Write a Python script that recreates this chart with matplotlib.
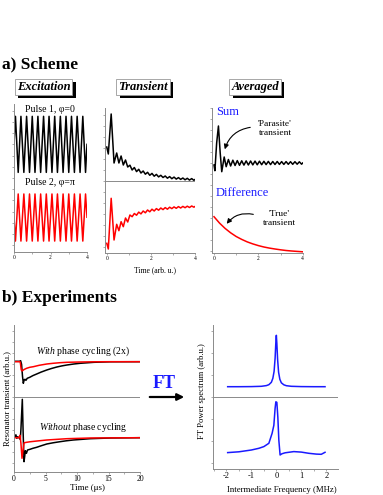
import matplotlib
matplotlib.use('Agg')
import matplotlib.pyplot as plt
from matplotlib import patheffects
from matplotlib.ticker import MultipleLocator, NullFormatter

plt.rcParams['font.family'] = ['Liberation Serif', 'DejaVu Serif']
plt.rcParams['mathtext.fontset'] = 'custom'
plt.rcParams['mathtext.rm'] = 'Liberation Serif'
plt.rcParams['mathtext.it'] = 'Liberation Serif:italic'
plt.rcParams['mathtext.bf'] = 'Liberation Serif:bold'
plt.rcParams['axes.unicode_minus'] = False

# ---- a) scheme: excitation pulses (peak / trough vertices)
pulse_t = [0, 0.08, 0.23, 0.38, 0.54, 0.69, 0.85, 1.00, 1.15, 1.31, 1.46, 1.62,
           1.77, 1.92, 2.08, 2.23, 2.38, 2.54, 2.69, 2.85, 3.00, 3.15, 3.31,
           3.46, 3.62, 3.77, 3.92, 4.0]
pulse1 = [1.2, 2.2, 0.2, 2.2, 0.2, 2.2, 0.2, 2.2, 0.2, 2.2, 0.2, 2.2, 0.2, 2.2,
          0.2, 2.2, 0.2, 2.2, 0.2, 2.2, 0.2, 2.2, 0.2, 2.2, 0.2, 2.2, 0.2, 1.2]
pulse2 = [-1.4, -2.25, -0.57, -2.25, -0.57, -2.25, -0.57, -2.25, -0.57, -2.25,
          -0.57, -2.25, -0.57, -2.25, -0.57, -2.25, -0.57, -2.25, -0.57, -2.25,
          -0.57, -2.25, -0.57, -2.25, -0.57, -2.25, -0.57, -1.4]

# transients after each pulse
tr_t = [0, 0.07, 0.2, 0.33, 0.45, 0.55, 0.65, 0.75, 0.85, 0.95,
        1.05, 1.15, 1.25, 1.35, 1.45, 1.55, 1.65, 1.75, 1.85, 1.95,
        2.05, 2.15, 2.25, 2.35, 2.45, 2.55, 2.65, 2.75, 2.85, 2.95,
        3.05, 3.15, 3.25, 3.35, 3.45, 3.55, 3.65, 3.75, 3.85, 3.95, 4.0]
tr_black = [3.4, 2.7, 6.7, 1.8, 2.8, 1.8, 2.5, 1.6, 2.1, 1.4,
            1.58, 1.10, 1.35, 0.94, 1.17, 0.80, 1.00, 0.68, 0.87, 0.57,
            0.76, 0.48, 0.66, 0.41, 0.57, 0.35, 0.50, 0.28, 0.44, 0.23,
            0.39, 0.19, 0.34, 0.16, 0.30, 0.12, 0.27, 0.09, 0.24, 0.07, 0.15]
tr_red = [-6.23, -6.8, -1.73, -5.9, -4.33, -4.97, -4.07, -4.57, -3.7, -4.1,
          -3.40, -3.57, -3.25, -3.42, -3.11, -3.29, -3.00, -3.18, -2.90, -3.08,
          -2.82, -3.00, -2.76, -2.92, -2.70, -2.86, -2.66, -2.82, -2.62, -2.76,
          -2.59, -2.73, -2.56, -2.70, -2.54, -2.67, -2.52, -2.65, -2.50, -2.62, -2.55]

# averaged: sum and difference
sum_t = [0, 0.04, 0.12, 0.2, 0.28, 0.35, 0.46, 0.55, 0.65, 0.75, 0.85, 0.95,
         1.05, 1.15, 1.25, 1.35, 1.45, 1.55, 1.65, 1.75, 1.85, 1.95,
         2.05, 2.15, 2.25, 2.35, 2.45, 2.55, 2.65, 2.75, 2.85, 2.95,
         3.05, 3.15, 3.25, 3.35, 3.45, 3.55, 3.65, 3.75, 3.85, 3.95, 4.0]
sum_y = [-0.2, -0.77, 2.0, 3.7, 1.0, -0.87, 0.6, -0.37, 0.35, -0.3, 0.28, -0.25,
         0.24, -0.23, 0.22, -0.21, 0.21, -0.2, 0.2, -0.19, 0.19, -0.18,
         0.18, -0.17, 0.17, -0.16, 0.16, -0.16, 0.15, -0.15, 0.15, -0.14,
         0.14, -0.14, 0.14, -0.13, 0.13, -0.13, 0.13, -0.12, 0.12, -0.12, 0.0]
diff_t = [0, 0.25, 0.5, 0.75, 1.0, 1.25, 1.5, 1.75, 2.0, 2.25, 2.5, 2.75, 3.0,
          3.25, 3.5, 3.75, 4.0]
diff_y = [-5.37, -6.01, -6.54, -6.98, -7.35, -7.64, -7.89, -8.09, -8.26, -8.40,
          -8.51, -8.60, -8.68, -8.75, -8.80, -8.84, -8.88]

# ---- b) experiments: resonator transients (us)
with_red_t = [0, 0.9, 1.0, 1.15, 1.27, 1.6, 2.0, 2.5, 3.07, 4.0, 5.2, 6.2, 7.3,
              8.4, 10.5, 12.7, 15.3, 20]
with_red = [3.56, 3.56, 3.5, 2.75, 2.63, 2.78, 2.9, 3.0, 3.06, 3.2, 3.33, 3.4,
            3.46, 3.5, 3.53, 3.55, 3.56, 3.56]
with_blk_t = [0, 0.9, 1.05, 1.2, 1.35, 1.48, 1.62, 1.75, 1.9, 2.1, 2.5, 3.0, 3.6,
              4.3, 5.2, 6.0, 6.8, 7.6, 8.4, 9.5, 10.5, 12.7, 15.3, 20]
with_blk = [3.6, 3.6, 3.66, 3.3, 2.1, 1.4, 1.75, 1.8, 1.7, 1.9, 2.0, 2.17, 2.33,
            2.52, 2.73, 2.89, 3.03, 3.14, 3.23, 3.33, 3.4, 3.5, 3.55, 3.56]
wo_blk_t = [0, 0.15, 0.3, 0.45, 0.6, 0.8, 1.0, 1.1, 1.32, 1.45, 1.59, 1.7, 1.8,
            1.97, 2.15, 2.54, 3.0, 3.6, 4.3, 5.2, 6.2, 7.3, 8.3, 9.4, 12.1, 15.3, 20]
wo_blk = [-4.04, -4.0, -3.75, -4.1, -3.95, -4.05, -4.2, -3.2, -0.2, -3.5, -6.44,
          -5.9, -5.34, -5.6, -5.27, -5.2, -5.1, -5.0, -4.85, -4.67, -4.55, -4.44,
          -4.35, -4.27, -4.14, -4.07, -4.04]
wo_red_t = [0, 0.8, 0.95, 1.1, 1.27, 1.45, 1.6, 2.0, 2.5, 3.5, 5.2, 8.4, 12.1, 20]
wo_red = [-4.04, -4.04, -3.8, -4.6, -6.1, -5.2, -4.55, -4.5, -4.45, -4.38, -4.27,
          -4.14, -4.07, -4.04]

# FT power spectra (MHz)
ft_top_f = [-1.95, -1.5, -1.0, -0.6, -0.4, -0.3, -0.2, -0.14, -0.09, -0.05, -0.02,
            0.0, 0.02, 0.05, 0.09, 0.14, 0.2, 0.3, 0.4, 0.6, 1.0, 1.5, 1.95]
ft_top = [1.06, 1.06, 1.07, 1.1, 1.17, 1.26, 1.5, 1.9, 2.6, 3.9, 5.5, 6.2, 5.4,
          3.8, 2.5, 1.8, 1.45, 1.25, 1.16, 1.1, 1.07, 1.06, 1.06]
ft_bot_f = [-1.95, -1.5, -1.0, -0.7, -0.5, -0.3, -0.17, -0.1, -0.05, -0.02, 0.02,
            0.06, 0.1, 0.15, 0.22, 0.35, 0.7, 1.0, 1.3, 1.6, 1.8, 1.95]
ft_bot = [-5.53, -5.45, -5.27, -5.1, -4.93, -4.6, -3.6, -2.8, -1.1, -0.45, -0.5,
          -2.0, -4.3, -5.77, -5.65, -5.55, -5.43, -5.48, -5.6, -5.68, -5.7, -5.5]

W, H = 383, 495
fig = plt.figure(figsize=(W / 100, H / 100), dpi=100)
BLUE = '#1a1aff'
GREY = '#8a8a8a'


def add_ax(left, top, right, bottom):
    return fig.add_axes([left / W, 1 - bottom / H, (right - left) / W, (bottom - top) / H])


def ftext(x, y, s, **kw):
    kw.setdefault('ha', 'center')
    kw.setdefault('va', 'center')
    return fig.text(x / W, 1 - y / H, s, **kw)


def style(ax, xstep, ystep, lsize):
    for side in ['top', 'right']:
        ax.spines[side].set_visible(False)
    for side in ['left', 'bottom']:
        ax.spines[side].set_color(GREY)
        ax.spines[side].set_linewidth(0.7)
    ax.yaxis.set_major_locator(MultipleLocator(ystep))
    ax.yaxis.set_major_formatter(NullFormatter())
    ax.xaxis.set_major_locator(MultipleLocator(xstep))
    ax.xaxis.set_minor_locator(MultipleLocator(xstep / 2))
    ax.tick_params(which='both', colors=GREY, width=0.5, length=1.5, labelsize=lsize,
                   labelcolor='black', pad=0.8)
    ax.tick_params(which='minor', length=1.2)


def title_box(x, y, s):
    t = ftext(x, y, s, fontsize=9, fontweight='bold', fontstyle='italic',
              bbox=dict(boxstyle='square,pad=0.15', fc='white', ec='#999999', lw=0.6))
    t.get_bbox_patch().set_path_effects(
        [patheffects.withSimplePatchShadow(offset=(2.4, -2.4), shadow_rgbFace='black', alpha=1.0)])


# ---- panel a
ftext(2, 64, 'a) Scheme', ha='left', fontsize=12.5, fontweight='bold')
title_box(43.5, 87, 'Excitation')
title_box(143, 87, 'Transient')
title_box(255, 87, 'Averaged')

ax = add_ax(14, 104, 87, 252)
ax.plot(pulse_t, pulse1, color='black', lw=1.1)
ax.plot(pulse_t, pulse2, color='red', lw=1.1)
ax.set_xlim(0, 4)
ax.set_ylim(-2.64, 2.64)
style(ax, 2, 0.4, 4)
ftext(50, 110, 'Pulse 1, φ=0', fontsize=7)
ftext(50, 183, 'Pulse 2, φ=π', fontsize=7)

ax = add_ax(105, 108, 195, 253)
ax.axhline(0, color=GREY, lw=0.7)
ax.plot(tr_t, tr_black, color='black', lw=1.1)
ax.plot(tr_t, tr_red, color='red', lw=1.1)
ax.set_xlim(-0.08, 4)
ax.set_ylim(-7.2, 7.3)
style(ax, 2, 1.1, 4)
ftext(155, 270, 'Time (arb. u.)', fontsize=5.5)

ax = add_ax(212, 108, 302.7, 253)
ax.plot(sum_t, sum_y, color='black', lw=1.1)
ax.plot(diff_t, diff_y, color='red', lw=1.1)
ax.set_xlim(-0.09, 4)
ax.set_ylim(-9.0, 5.5)
style(ax, 2, 1.1, 4)
ftext(228, 112, 'Sum', fontsize=9, color=BLUE)
ftext(242, 193, 'Difference', fontsize=9, color=BLUE)
ftext(275, 128.5, "'Parasite'\ntransient", fontsize=6.8, linespacing=1.3)
ftext(279, 218.5, "'True'\ntransient", fontsize=6.8, linespacing=1.2)
fig.add_artist(matplotlib.patches.FancyArrowPatch(
    (253, H - 127), (224, H - 152), transform=None, arrowstyle='-|>',
    connectionstyle='arc3,rad=0.35', mutation_scale=7, lw=0.8, color='black'))
fig.add_artist(matplotlib.patches.FancyArrowPatch(
    (256, H - 215), (225, H - 226), transform=None, arrowstyle='-|>',
    connectionstyle='arc3,rad=0.35', mutation_scale=7, lw=0.8, color='black'))

# ---- panel b
ftext(2, 298, 'b) Experiments', ha='left', fontsize=12.5, fontweight='bold')

ax = add_ax(14, 325, 140, 471.7)
ax.axhline(0, color=GREY, lw=0.7)
ax.plot(with_blk_t, with_blk, color='black', lw=1.1)
ax.plot(with_red_t, with_red, color='red', lw=1.1)
ax.plot(wo_blk_t, wo_blk, color='black', lw=1.1)
ax.plot(wo_red_t, wo_red, color='red', lw=1.1)
ax.set_xlim(0, 20)
ax.set_ylim(-7.44, 7.23)
style(ax, 5, 1.1, 5.5)
ftext(83, 351, r'$\it{With}$ phase cycling (2x)', fontsize=7)
ftext(83, 428, r'$\it{Without}$ phase cycling', fontsize=7)
ftext(87, 488, 'Time (μs)', fontsize=6.5)
ftext(7, 399, 'Resonator transient (arb.u.)', fontsize=6.2, rotation=90)

ftext(164, 383, 'FT', fontsize=13, fontweight='bold', color=BLUE)
fig.add_artist(matplotlib.patches.FancyArrowPatch(
    (147, H - 397), (187, H - 397), transform=None, arrowstyle='-|>',
    mutation_scale=10, lw=1.6, color='black'))

ax = add_ax(212.7, 325, 338, 469)
ax.axhline(0, color=GREY, lw=0.7)
ax.plot(ft_top_f, ft_top, color=BLUE, lw=1.1)
ax.plot(ft_bot_f, ft_bot, color=BLUE, lw=1.1)
ax.set_xlim(-2.55, 2.47)
ax.set_ylim(-7.17, 7.23)
style(ax, 1, 2.2, 6)
ftext(281.5, 490, 'Intermediate Frequency (MHz)', fontsize=6.3)
ftext(202, 391, 'FT Power spectrum (arb.u.)', fontsize=6.2, rotation=90)

fig.savefig('out.png', dpi=100)
